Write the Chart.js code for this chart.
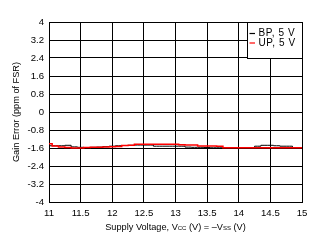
<!DOCTYPE html>
<html>
<head>
<meta charset="utf-8">
<script src="https://cdn.jsdelivr.net/npm/chart.js@4"></script>
<style>
  html, body { margin: 0; padding: 0; background: #fff; }
  #wrap { width: 322px; height: 243px; }
</style>
</head>
<body>
<div id="wrap"><canvas id="gainChart" width="322" height="243"></canvas></div>
<script>
// Supply voltage (V), one reading every 0.1 V
const volts = [11.0, 11.1, 11.2, 11.3, 11.4, 11.5, 11.6, 11.7, 11.8, 11.9,
  12.0, 12.1, 12.2, 12.3, 12.4, 12.5, 12.6, 12.7, 12.8, 12.9,
  13.0, 13.1, 13.2, 13.3, 13.4, 13.5, 13.6, 13.7, 13.8, 13.9,
  14.0, 14.1, 14.2, 14.3, 14.4, 14.5, 14.6, 14.7, 14.8, 14.9, 15.0];

// Gain error (ppm of FSR)
const bp5 = [-1.50, -1.50, -1.50, -1.48, -1.55, -1.57, -1.58, -1.57, -1.56, -1.54,
  -1.52, -1.50, -1.49, -1.48, -1.47, -1.47, -1.47, -1.52, -1.52, -1.52,
  -1.52, -1.52, -1.56, -1.57, -1.57, -1.58, -1.59, -1.59, -1.59, -1.59,
  -1.59, -1.59, -1.59, -1.52, -1.48, -1.48, -1.50, -1.52, -1.52, -1.59, -1.59];
const up5 = [-1.41, -1.51, -1.56, -1.58, -1.60, -1.60, -1.58, -1.57, -1.57, -1.55,
  -1.54, -1.53, -1.49, -1.48, -1.43, -1.43, -1.43, -1.43, -1.43, -1.43,
  -1.43, -1.45, -1.47, -1.47, -1.51, -1.51, -1.51, -1.52, -1.59, -1.59,
  -1.59, -1.59, -1.59, -1.59, -1.59, -1.59, -1.59, -1.59, -1.59, -1.59, -1.59];

const xTicks = [11, 11.5, 12, 12.5, 13, 13.5, 14, 14.5, 15];
const yTicks = [-4, -3.2, -2.4, -1.6, -0.8, 0, 0.8, 1.6, 2.4, 3.2, 4];

const seriesNames = ['BP, 5 V', 'UP, 5 V'];
const seriesColors = ['#000000', '#ff0000'];

const FONT = 'Arial, "Liberation Sans", sans-serif';

function toPoints(vals) {
  return volts.map((v, i) => ({ x: v, y: vals[i] }));
}

// titles (with subscripts) and the boxed legend are drawn by hand
const extras = {
  id: 'extras',
  afterDraw(chart) {
    const c = chart.ctx;
    const a = chart.chartArea;
    c.save();
    c.fillStyle = '#000';

    // y title
    c.font = '9.2px ' + FONT;
    c.textAlign = 'center';
    c.textBaseline = 'middle';
    c.translate(16, (a.top + a.bottom) / 2);
    c.rotate(-Math.PI / 2);
    c.fillText('Gain Error (ppm of FSR)', 0, 0);
    c.setTransform(1, 0, 0, 1, 0, 0);

    // x title: Supply Voltage, Vcc (V) = –Vss (V)
    const parts = [
      ['Supply Voltage, V', false], ['CC', true], [' (V) = \u2013V', false], ['SS', true], [' (V)', false]
    ];
    const big = '9.2px ' + FONT, small = '6px ' + FONT;
    let w = 0;
    parts.forEach(p => { c.font = p[1] ? small : big; w += c.measureText(p[0]).width; });
    let x = (a.left + a.right) / 2 - w / 2;
    const y = 227;
    c.textAlign = 'left';
    c.textBaseline = 'middle';
    parts.forEach(p => {
      c.font = p[1] ? small : big;
      c.fillText(p[0], x, p[1] ? y + 1.5 : y);
      x += c.measureText(p[0]).width;
    });

    // legend box in the top right corner of the plot, bottom edge on the 2.4 grid line
    const yGrid = chart.scales.y.getPixelForValue(2.4);
    const bx = a.right - 55, by = a.top;
    const bw = 55, bh = Math.round(yGrid) - Math.round(by);
    c.fillStyle = '#fff';
    c.fillRect(bx, by, bw, bh);
    c.strokeStyle = '#000';
    c.lineWidth = 1;
    c.strokeRect(Math.round(bx) + 0.5, Math.round(by) + 0.5, bw, bh);
    c.font = '10px ' + FONT;
    c.letterSpacing = '0.6px';
    c.textBaseline = 'middle';
    seriesNames.forEach((name, i) => {
      const ly = by + 11.5 + i * 9.5;
      c.strokeStyle = seriesColors[i];
      c.lineWidth = 1.2;
      c.beginPath();
      c.moveTo(bx + 2.5, ly);
      c.lineTo(bx + 8, ly);
      c.stroke();
      c.fillStyle = '#000';
      c.fillText(name, bx + 11.5, ly);
    });
    c.restore();
  }
};

new Chart(document.getElementById('gainChart'), {
  type: 'line',
  data: {
    datasets: [
      {
        label: seriesNames[0],
        data: toPoints(bp5),
        borderColor: seriesColors[0],
        borderWidth: 1,
        pointRadius: 0,
        stepped: 'middle',
        order: 1
      },
      {
        label: seriesNames[1],
        data: toPoints(up5),
        borderColor: seriesColors[1],
        borderWidth: 1.5,
        pointRadius: 0,
        stepped: 'middle',
        order: 0
      }
    ]
  },
  options: {
    responsive: false,
    animation: false,
    events: [],
    layout: { padding: { left: 0, right: 20, top: 22, bottom: 0 } },
    plugins: { legend: { display: false }, tooltip: { enabled: false } },
    scales: {
      x: {
        type: 'linear',
        min: 11,
        max: 15,
        afterBuildTicks: s => { s.ticks = xTicks.map(v => ({ value: v })); },
        afterFit: s => { s.height = 41; },
        grid: { color: '#000', lineWidth: 1, drawTicks: false },
        border: { color: '#000', width: 1 },
        ticks: {
          color: '#000',
          font: { family: FONT, size: 9.6 },
          padding: 6,
          maxRotation: 0,
          autoSkip: false,
          callback: v => String(v)
        }
      },
      y: {
        min: -4,
        max: 4,
        afterBuildTicks: s => { s.ticks = yTicks.map(v => ({ value: v })); },
        afterFit: s => { s.width = 49; },
        grid: { color: '#000', lineWidth: 1, drawTicks: false },
        border: { color: '#000', width: 1 },
        ticks: {
          color: '#000',
          font: { family: FONT, size: 9.6 },
          padding: 5,
          autoSkip: false,
          callback: v => String(v)
        }
      }
    }
  },
  plugins: [extras]
});
</script>
</body>
</html>
